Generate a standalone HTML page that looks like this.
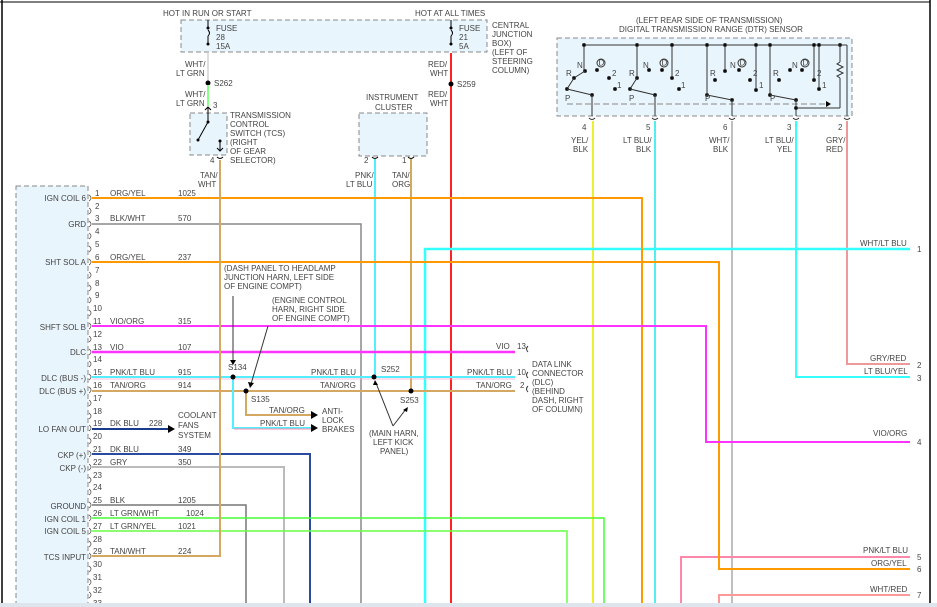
<!DOCTYPE html>
<html><head><meta charset="utf-8"><style>
html,body{margin:0;padding:0;background:#fff;}
svg{display:block;font-family:"Liberation Sans",sans-serif;}
text{font-size:8px;fill:#444;}
</style></head><body>
<svg width="937" height="607" viewBox="0 0 937 607" xmlns="http://www.w3.org/2000/svg">
<rect width="937" height="607" fill="#fff"/>
<line x1="2" y1="0" x2="2" y2="607" stroke="#000" stroke-width="1.5"/>
<line x1="930" y1="0" x2="930" y2="607" stroke="#000" stroke-width="1.5"/>
<line x1="0" y1="2" x2="930" y2="2" stroke="#000" stroke-width="1"/>

<!-- PCM box -->
<rect x="16" y="186" width="72" height="430" fill="#e9f5fc" stroke="#888" stroke-dasharray="5,3"/>

<!-- Top fuse box -->
<rect x="181" y="20" width="306" height="32" fill="#e9f5fc" stroke="#888" stroke-dasharray="5,3"/>
<text x="163" y="16">HOT IN RUN OR START</text>
<text x="415" y="16">HOT AT ALL TIMES</text>
<text x="216" y="31">FUSE</text><text x="216" y="40">28</text><text x="216" y="49">15A</text>
<text x="459" y="31">FUSE</text><text x="459" y="40">21</text><text x="459" y="49">5A</text>
<text x="492" y="28">CENTRAL</text><text x="492" y="37">JUNCTION</text><text x="492" y="46">BOX)</text><text x="492" y="55">(LEFT OF</text><text x="492" y="64">STEERING</text><text x="492" y="73">COLUMN)</text>
<line x1="208" y1="20" x2="208" y2="28" stroke="#000"/><circle cx="208" cy="28" r="1.5"/><path d="M208 30 q3 3 0 6" fill="none" stroke="#000"/><circle cx="208" cy="44" r="1.5"/><line x1="208" y1="36" x2="208" y2="44" stroke="#000"/>
<line x1="451" y1="20" x2="451" y2="28" stroke="#000"/><circle cx="451" cy="28" r="1.5"/><path d="M451 30 q3 3 0 6" fill="none" stroke="#000"/><circle cx="451" cy="44" r="1.5"/><line x1="451" y1="36" x2="451" y2="44" stroke="#000"/>

<!-- WHT/LT GRN -->
<line x1="208" y1="53" x2="208" y2="83" stroke="#ddd" stroke-width="2"/>
<text x="185" y="67">WHT/</text><text x="176" y="76">LT GRN</text>
<circle cx="208" cy="83" r="2.5" fill="#000"/><text x="214" y="86">S262</text>
<line x1="208" y1="85" x2="208" y2="106" stroke="#8f8" stroke-width="2"/>
<text x="185" y="97">WHT/</text><text x="176" y="106">LT GRN</text>
<text x="213" y="108">3</text>
<!-- TCS box -->
<rect x="190" y="113" width="37" height="42" fill="#e9f5fc" stroke="#888" stroke-dasharray="5,3"/>
<path d="M205 110 l3 -3 l3 3 M208 107 v14" fill="none" stroke="#000"/>
<circle cx="208" cy="122" r="1.5"/><line x1="208" y1="122" x2="198" y2="140" stroke="#000"/><circle cx="198" cy="140" r="1.5"/>
<circle cx="220" cy="141" r="1.5"/><path d="M220 141 v10 M217 148 l3 3 l3 -3" fill="none" stroke="#000"/>
<text x="230" y="118">TRANSMISSION</text><text x="230" y="127">CONTROL</text><text x="230" y="136">SWITCH (TCS)</text><text x="230" y="145">(RIGHT</text><text x="230" y="154">OF GEAR</text><text x="230" y="163">SELECTOR)</text>
<path d="M217 157 q3 3 6 0" fill="none" stroke="#000"/><text x="210" y="163">4</text>
<text x="200" y="178">TAN/</text><text x="198" y="187">WHT</text>

<!-- RED/WHT -->
<line x1="451" y1="53" x2="451" y2="607" stroke="#f22" stroke-width="2"/>
<text x="428" y="67">RED/</text><text x="430" y="76">WHT</text>
<circle cx="451" cy="84" r="2.5" fill="#000"/><text x="457" y="87">S259</text>
<text x="428" y="97">RED/</text><text x="430" y="106">WHT</text>

<!-- Instrument cluster -->
<text x="366" y="100">INSTRUMENT</text><text x="375" y="110">CLUSTER</text>
<rect x="359" y="113" width="68" height="43" fill="#e9f5fc" stroke="#888" stroke-dasharray="5,3"/>
<path d="M372 157 q3 3 6 0 M408 157 q3 3 6 0" fill="none" stroke="#000"/>
<text x="364" y="163">2</text><text x="402" y="163">1</text>
<text x="355" y="178">PNK/</text><text x="346" y="187">LT BLU</text>
<text x="392" y="178">TAN/</text><text x="392" y="187">ORG</text>
<line x1="375" y1="159" x2="375" y2="377" stroke="#5ef" stroke-width="2"/>
<line x1="411" y1="159" x2="411" y2="391" stroke="#d4a860" stroke-width="2"/>

<!-- DTR sensor -->
<text x="636" y="23">(LEFT REAR SIDE OF TRANSMISSION)</text>
<text x="619" y="32">DIGITAL TRANSMISSION RANGE (DTR) SENSOR</text>
<rect x="557" y="38" width="295" height="78" fill="#e9f5fc" stroke="#888" stroke-dasharray="5,3"/>
<line x1="584" y1="45" x2="840" y2="45" stroke="#333"/>
<line x1="847" y1="45" x2="847" y2="116" stroke="#333"/><line x1="840" y1="45" x2="847" y2="45" stroke="#333"/>
<line x1="567" y1="104" x2="830" y2="104" stroke="#888" stroke-dasharray="6,3"/><path d="M826 101 l5 3 l-5 3z" fill="#000"/>
<g fill="#000" stroke="#333">
<!-- sec1 -->
<line x1="584" y1="45" x2="584" y2="71"/><circle cx="585" cy="71" r="1.5"/><line x1="585" y1="71" x2="574" y2="78"/><circle cx="574" cy="78" r="1.5"/><line x1="574" y1="78" x2="567" y2="89"/><circle cx="567" cy="89" r="1.5"/><line x1="567" y1="89" x2="592" y2="95"/><circle cx="592" cy="95" r="1.5"/><line x1="592" y1="95" x2="592" y2="116"/>
<circle cx="597" cy="70" r="1.5"/><circle cx="609" cy="78" r="1.5"/><circle cx="615" cy="89" r="1.5"/>
<!-- sec2 -->
<line x1="637" y1="45" x2="637" y2="78"/><circle cx="637" cy="45" r="1.5"/><circle cx="637" cy="78" r="1.5"/><line x1="637" y1="78" x2="630" y2="89"/><circle cx="630" cy="89" r="1.5"/><line x1="630" y1="89" x2="655" y2="95"/><circle cx="655" cy="95" r="1.5"/><line x1="655" y1="95" x2="655" y2="116"/>
<circle cx="649" cy="70" r="1.5"/><circle cx="662" cy="70" r="1.5"/><line x1="672" y1="45" x2="672" y2="78"/><circle cx="672" cy="45" r="1.5"/><circle cx="672" cy="78" r="1.5"/><circle cx="679" cy="89" r="1.5"/>
<!-- sec3 -->
<line x1="707" y1="45" x2="707" y2="95"/><circle cx="707" cy="45" r="1.5"/><circle cx="707" cy="95" r="1.5"/><line x1="707" y1="95" x2="732" y2="100"/><circle cx="732" cy="100" r="1.5"/><line x1="732" y1="100" x2="732" y2="116"/>
<circle cx="715" cy="80" r="1.5"/><line x1="725" y1="45" x2="725" y2="71"/><circle cx="725" cy="45" r="1.5"/><circle cx="725" cy="71" r="1.5"/><circle cx="739" cy="70" r="1.5"/><circle cx="750" cy="80" r="1.5"/><line x1="756" y1="45" x2="756" y2="90"/><circle cx="756" cy="45" r="1.5"/><circle cx="756" cy="90" r="1.5"/>
<!-- sec4 -->
<line x1="770" y1="45" x2="770" y2="95"/><circle cx="770" cy="45" r="1.5"/><circle cx="770" cy="95" r="1.5"/><line x1="770" y1="95" x2="796" y2="100"/><circle cx="796" cy="100" r="1.5"/><line x1="796" y1="100" x2="796" y2="116"/>
<circle cx="779" cy="80" r="1.5"/><circle cx="790" cy="70" r="1.5"/><circle cx="802" cy="70" r="1.5"/>
<line x1="814" y1="45" x2="814" y2="80"/><circle cx="814" cy="45" r="1.5"/><circle cx="814" cy="80" r="1.5"/>
<line x1="819" y1="45" x2="819" y2="89"/><circle cx="819" cy="45" r="1.5"/><circle cx="819" cy="89" r="1.5"/>
<circle cx="840" cy="45" r="1.5"/><line x1="840" y1="45" x2="840" y2="62"/><path d="M840 62 l-3 2 l6 3 l-6 3 l6 3 l-6 3 l3 2" fill="none"/><line x1="840" y1="78" x2="840" y2="108"/><line x1="840" y1="108" x2="796" y2="108"/><circle cx="796" cy="108" r="1.5"/>
<circle cx="584" cy="45" r="1.5"/>
</g>
<g font-size="8">
<text x="566" y="76">R</text><text x="577" y="68">N</text><text x="565" y="101">P</text><text x="612" y="76">2</text><text x="617" y="88">1</text>
<text x="629" y="76">R</text><text x="643" y="68">N</text><text x="629" y="101">P</text><text x="675" y="76">2</text><text x="681" y="88">1</text>
<text x="710" y="76">R</text><text x="730" y="68">N</text><text x="705" y="101">P</text><text x="753" y="76">2</text><text x="759" y="88">1</text>
<text x="773" y="76">R</text><text x="792" y="68">N</text><text x="770" y="101">P</text><text x="817" y="76">2</text><text x="822" y="88">1</text>
</g>
<g fill="none" stroke="#333"><circle cx="601" cy="63" r="4"/><circle cx="664" cy="63" r="4"/><circle cx="742" cy="63" r="4"/><circle cx="805" cy="63" r="4"/></g>
<g font-size="6" fill="#333"><text x="598.5" y="65.5">D</text><text x="661.5" y="65.5">D</text><text x="739.5" y="65.5">D</text><text x="802.5" y="65.5">D</text></g>
<g fill="none" stroke="#333"><path d="M589 118 q3 3 6 0 M652 118 q3 3 6 0 M729 118 q3 3 6 0 M793 118 q3 3 6 0 M844 118 q3 3 6 0"/></g>
<text x="582" y="130">4</text><text x="646" y="130">5</text><text x="723" y="130">6</text><text x="787" y="130">3</text><text x="838" y="130">2</text>
<text x="571" y="143">YEL/</text><text x="573" y="152">BLK</text>
<text x="623" y="143">LT BLU/</text><text x="636" y="152">BLK</text>
<text x="709" y="143">WHT/</text><text x="713" y="152">BLK</text>
<text x="765" y="143">LT BLU/</text><text x="777" y="152">YEL</text>
<text x="826" y="143">GRY/</text><text x="826" y="152">RED</text>
<line x1="593" y1="121" x2="593" y2="607" stroke="#ee3" stroke-width="2"/>
<line x1="655" y1="121" x2="655" y2="607" stroke="#5ee" stroke-width="2"/>
<line x1="732" y1="121" x2="732" y2="607" stroke="#aaa" stroke-width="1.5"/>
<polyline points="796,121 796,377 910,377" fill="none" stroke="#3ff" stroke-width="2"/>
<polyline points="847,121 847,364 910,364" fill="none" stroke="#e99" stroke-width="2"/>

<!-- Right-side wires -->
<polyline points="425,607 425,249 910,249" fill="none" stroke="#3ff" stroke-width="2.5"/>
<text x="860" y="246">WHT/LT BLU</text><text x="917" y="252">1</text>
<text x="870" y="361">GRY/RED</text><text x="917" y="368">2</text>
<text x="864" y="374">LT BLU/YEL</text><text x="917" y="381">3</text>
<text x="873" y="436">VIO/ORG</text><text x="917" y="445">4</text>
<text x="863" y="553">PNK/LT BLU</text><text x="917" y="560">5</text>
<text x="871" y="566">ORG/YEL</text><text x="917" y="572">6</text>
<text x="870" y="592">WHT/RED</text><text x="917" y="598">7</text>
<polyline points="681,607 681,557 910,557" fill="none" stroke="#f8a" stroke-width="2"/>
<polyline points="719,607 719,595 910,595" fill="none" stroke="#f99" stroke-width="2"/>

<!-- PCM pins -->
<g font-size="8">
<text x="95" y="196">1</text><text x="95" y="209">2</text><text x="95" y="221">3</text><text x="95" y="234">4</text><text x="95" y="247">5</text><text x="95" y="260">6</text><text x="95" y="273">7</text><text x="95" y="286">8</text><text x="95" y="298">9</text><text x="93" y="311">10</text><text x="93" y="324">11</text><text x="93" y="337">12</text><text x="93" y="350">13</text><text x="93" y="362">14</text><text x="93" y="375">15</text><text x="93" y="388">16</text><text x="93" y="401">17</text><text x="93" y="414">18</text><text x="93" y="426">19</text><text x="93" y="439">20</text><text x="93" y="452">21</text><text x="93" y="465">22</text><text x="93" y="478">23</text><text x="93" y="490">24</text><text x="93" y="503">25</text><text x="93" y="516">26</text><text x="93" y="529">27</text><text x="93" y="542">28</text><text x="93" y="554">29</text><text x="93" y="567">30</text><text x="93" y="580">31</text><text x="93" y="593">32</text><text x="93" y="606">33</text>
</g>
<g fill="none" stroke="#555" stroke-width="0.8">
<path d="M89 195 q4 3 0 6 M89 208 q4 3 0 6 M89 221 q4 3 0 6 M89 233 q4 3 0 6 M89 246 q4 3 0 6 M89 259 q4 3 0 6 M89 272 q4 3 0 6 M89 285 q4 3 0 6 M89 297 q4 3 0 6 M89 310 q4 3 0 6 M89 323 q4 3 0 6 M89 336 q4 3 0 6 M89 349 q4 3 0 6 M89 361 q4 3 0 6 M89 374 q4 3 0 6 M89 387 q4 3 0 6 M89 400 q4 3 0 6 M89 413 q4 3 0 6 M89 425 q4 3 0 6 M89 438 q4 3 0 6 M89 451 q4 3 0 6 M89 464 q4 3 0 6 M89 477 q4 3 0 6 M89 489 q4 3 0 6 M89 502 q4 3 0 6 M89 515 q4 3 0 6 M89 528 q4 3 0 6 M89 541 q4 3 0 6 M89 553 q4 3 0 6 M89 566 q4 3 0 6 M89 579 q4 3 0 6 M89 592 q4 3 0 6"/>
</g>
<g text-anchor="end">
<text x="86" y="201">IGN COIL 6</text><text x="86" y="227">GRD</text><text x="86" y="265">SHT SOL A</text><text x="86" y="330">SHFT SOL B</text><text x="86" y="355">DLC</text><text x="86" y="381">DLC (BUS -)</text><text x="86" y="394">DLC (BUS +)</text><text x="86" y="432">LO FAN OUT</text><text x="86" y="458">CKP (+)</text><text x="86" y="471">CKP (-)</text><text x="86" y="509">GROUND</text><text x="86" y="522">IGN COIL 1</text><text x="86" y="534">IGN COIL 5</text><text x="86" y="560">TCS INPUT</text>
</g>
<g>
<text x="110" y="196">ORG/YEL</text><text x="178" y="196">1025</text>
<text x="110" y="221">BLK/WHT</text><text x="178" y="221">570</text>
<text x="110" y="260">ORG/YEL</text><text x="178" y="260">237</text>
<text x="110" y="324">VIO/ORG</text><text x="178" y="324">315</text>
<text x="110" y="350">VIO</text><text x="178" y="350">107</text>
<text x="110" y="375">PNK/LT BLU</text><text x="178" y="375">915</text>
<text x="110" y="388">TAN/ORG</text><text x="178" y="388">914</text>
<text x="110" y="426">DK BLU</text><text x="149" y="426">228</text>
<text x="110" y="452">DK BLU</text><text x="178" y="452">349</text>
<text x="110" y="465">GRY</text><text x="178" y="465">350</text>
<text x="110" y="503">BLK</text><text x="178" y="503">1205</text>
<text x="110" y="516">LT GRN/WHT</text><text x="186" y="516">1024</text>
<text x="110" y="529">LT GRN/YEL</text><text x="178" y="529">1021</text>
<text x="110" y="554">TAN/WHT</text><text x="178" y="554">224</text>
</g>

<!-- PCM wires -->
<polyline points="92,198 642,198 642,607" fill="none" stroke="#f90" stroke-width="2"/>
<polyline points="92,224 361,224 361,607" fill="none" stroke="#888" stroke-width="1.5"/>
<polyline points="92,262 719,262 719,569 910,569" fill="none" stroke="#f90" stroke-width="2"/>
<polyline points="92,326 706,326 706,442 910,442" fill="none" stroke="#f3f" stroke-width="2"/>
<line x1="92" y1="352" x2="515" y2="352" stroke="#f3f" stroke-width="2.5"/>
<line x1="92" y1="377" x2="515" y2="377" stroke="#5ef" stroke-width="2"/>
<line x1="92" y1="379" x2="515" y2="379" stroke="#fac" stroke-width="0.8"/>
<line x1="92" y1="391" x2="515" y2="391" stroke="#d4a860" stroke-width="2"/>
<line x1="92" y1="429" x2="168" y2="429" stroke="#1a3a8a" stroke-width="2"/><path d="M168 425 l7 4 l-7 4z" fill="#000"/>
<text x="178" y="418">COOLANT</text><text x="178" y="428">FANS</text><text x="178" y="438">SYSTEM</text>
<polyline points="92,454 310,454 310,607" fill="none" stroke="#2a4aa0" stroke-width="2"/>
<polyline points="92,467 284,467 284,607" fill="none" stroke="#bbb" stroke-width="2"/>
<polyline points="92,505 246,505 246,607" fill="none" stroke="#777" stroke-width="1.5"/>
<polyline points="92,518 604,518 604,607" fill="none" stroke="#4f3" stroke-width="1.5"/>
<polyline points="92,531 567,531 567,607" fill="none" stroke="#6f4" stroke-width="1.5"/>
<polyline points="220,160 220,556 92,556" fill="none" stroke="#d4a860" stroke-width="2"/>

<!-- splices -->
<text x="224" y="271">(DASH PANEL TO HEADLAMP</text><text x="224" y="280">JUNCTION HARN, LEFT SIDE</text><text x="224" y="289">OF ENGINE COMPT)</text>
<text x="272" y="303">(ENGINE CONTROL</text><text x="272" y="312">HARN, RIGHT SIDE</text><text x="272" y="321">OF ENGINE COMPT)</text>
<line x1="233" y1="296" x2="233" y2="362" stroke="#333"/><path d="M230 360 l3 5 l3 -5z" fill="#000"/>
<line x1="268" y1="326" x2="251" y2="384" stroke="#333"/><path d="M248 382 l2 6 l4 -5z" fill="#000"/>
<text x="228" y="370">S134</text>
<polyline points="233,377 233,428 312,428" fill="none" stroke="#5ef" stroke-width="2"/>
<polyline points="234,429 312,429" fill="none" stroke="#f8a" stroke-width="1"/>
<polyline points="246,391 246,415 312,415" fill="none" stroke="#d4a860" stroke-width="2"/>
<path d="M311 411 l7 4 l-7 4z M311 424 l7 4 l-7 4z" fill="#000"/>
<circle cx="233" cy="377" r="2.5" fill="#000"/><circle cx="246" cy="391" r="2.5" fill="#000"/>
<text x="251" y="402">S135</text>
<text x="269" y="413">TAN/ORG</text><text x="260" y="426">PNK/LT BLU</text>
<text x="322" y="414">ANTI-</text><text x="322" y="423">LOCK</text><text x="322" y="432">BRAKES</text>
<circle cx="374" cy="377" r="2.5" fill="#000"/><text x="381" y="372">S252</text>
<circle cx="411" cy="391" r="2.5" fill="#000"/><text x="400" y="403">S253</text>
<text x="311" y="375">PNK/LT BLU</text><text x="320" y="388">TAN/ORG</text>
<line x1="393" y1="426" x2="376" y2="383" stroke="#333"/><path d="M373 385 l2 -5 l3 5z" fill="#000"/>
<line x1="393" y1="426" x2="406" y2="409" stroke="#333"/><path d="M403 410 l5 -3 l-1 5z" fill="#000"/>
<text x="369" y="436">(MAIN HARN,</text><text x="373" y="445">LEFT KICK</text><text x="380" y="454">PANEL)</text>
<text x="496" y="349">VIO</text><text x="517" y="349">13</text>
<text x="467" y="375">PNK/LT BLU</text><text x="517" y="375">10</text>
<text x="476" y="388">TAN/ORG</text><text x="520" y="388">2</text>
<path d="M528 346 q-3 3 0 6 M528 372 q-3 3 0 6 M528 386 q-3 3 0 6" fill="none" stroke="#333"/>
<text x="532" y="367">DATA LINK</text><text x="532" y="376">CONNECTOR</text><text x="532" y="385">(DLC)</text><text x="532" y="394">(BEHIND</text><text x="532" y="403">DASH, RIGHT</text><text x="532" y="412">OF COLUMN)</text>

<rect x="0" y="603" width="937" height="4" fill="#dfe5ec"/>
</svg>
</body></html>
